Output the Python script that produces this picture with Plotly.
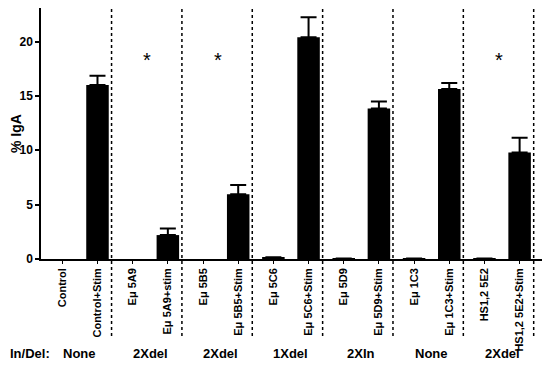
import plotly.graph_objects as go

categories = ["Control", "Control+Stim",
              "Eμ 5A9", "Eμ 5A9+stim",
              "Eμ 5B5", "Eμ 5B5+Stim",
              "Eμ 5C6", "Eμ 5C6+Stim",
              "Eμ 5D9", "Eμ 5D9+Stim",
              "Eμ 1C3", "Eμ 1C3+Stim",
              "HS1,2 5E2", "HS1,2 5E2+Stim"]
values = [0.0, 16.0, 0.0, 2.2, 0.0, 5.95, 0.1, 20.4, 0.05, 13.85, 0.05, 15.65, 0.05, 9.8]
errors = [None, 0.85, None, 0.6, None, 0.85, 0.05, 1.85, 0.0, 0.65, 0.0, 0.55, 0.0, 1.35]
groups = ["None", "2Xdel", "2Xdel", "1Xdel", "2XIn", "None", "2Xdel"]
star_groups = [1, 2, 6]

xs = list(range(len(categories)))
font = "Liberation Sans, Arial, sans-serif"

# page body has an 8px margin; figure is sized/offset to compensate
W, H = 542, 358
L, R, T, B = 33, 4, 0, 107
plot_w = W - L - R
plot_h = H - T - B

fig = go.Figure(go.Bar(
    x=xs, y=values, width=0.64,
    marker=dict(color="black", line=dict(width=0)),
))

ex = [x for x, e in zip(xs, errors) if e is not None]
ey = [v for v, e in zip(values, errors) if e is not None]
ee = [e for e in errors if e is not None]
fig.add_trace(go.Scatter(
    x=ex, y=ey, mode="markers", marker=dict(size=0.1, color="black", opacity=0),
    error_y=dict(type="data", symmetric=False, array=ee,
                 arrayminus=[0] * len(ee), color="black",
                 thickness=2, width=8),
    hoverinfo="skip",
))

label_y = -94 / plot_h
dot_bottom = -77 / plot_h

for k in range(len(groups)):
    xd = 2 * k + 1 + 0.4
    fig.add_shape(type="line", xref="x", yref="paper", x0=xd, x1=xd,
                  y0=dot_bottom, y1=1.0, line=dict(color="black", width=1.5, dash="dot"))
    fig.add_annotation(x=2 * k + 0.5, xref="x", y=label_y, yref="paper",
                       yanchor="middle",
                       text=f"<b>{groups[k]}</b>", showarrow=False,
                       font=dict(family=font, size=13, color="black"))

for k in star_groups:
    fig.add_annotation(x=2 * k + 0.42, xref="x", y=18.3, yref="y",
                       text="*", showarrow=False,
                       font=dict(family=font, size=20, color="black"))

fig.add_annotation(x=-L / plot_w, xref="paper", y=label_y, yref="paper",
                   xanchor="left", yanchor="middle",
                   text="<b>In/Del:</b>", showarrow=False,
                   font=dict(family=font, size=13, color="black"))

# y-axis title
fig.add_annotation(x=-25.5 / plot_w, xref="paper", y=0.5, yref="paper",
                   xanchor="center", yanchor="middle", textangle=-90,
                   text="<b>% IgA</b>", showarrow=False,
                   font=dict(family=font, size=14, color="black"))

fig.update_layout(
    width=W, height=H,
    margin=dict(l=L, r=R, t=T, b=B, pad=0, autoexpand=False),
    plot_bgcolor="white", paper_bgcolor="white",
    showlegend=False,
    font=dict(family=font, color="black"),
)
fig.update_xaxes(
    range=[-0.606, 13.75], tickmode="array", tickvals=xs,
    ticktext=[f"<b>{c}</b>" for c in categories],
    tickangle=-90, tickfont=dict(size=11, family=font),
    showline=True, linecolor="black", linewidth=1.5,
    ticks="outside", ticklen=3, tickwidth=1, tickcolor="black",
    showgrid=False, zeroline=False, automargin=False,
)
fig.update_yaxes(
    range=[0, 23.09], tickvals=[0, 5, 10, 15, 20],
    ticktext=["<b>0</b>", "<b>5</b>", "<b>10</b>", "<b>15</b>", "<b>20</b>"],
    tickfont=dict(size=12, family=font),
    showline=True, linecolor="black", linewidth=1.5,
    ticks="outside", ticklen=4, tickwidth=1.5, tickcolor="black",
    showgrid=False, zeroline=False, automargin=False,
)

fig.write_html("out.html")
